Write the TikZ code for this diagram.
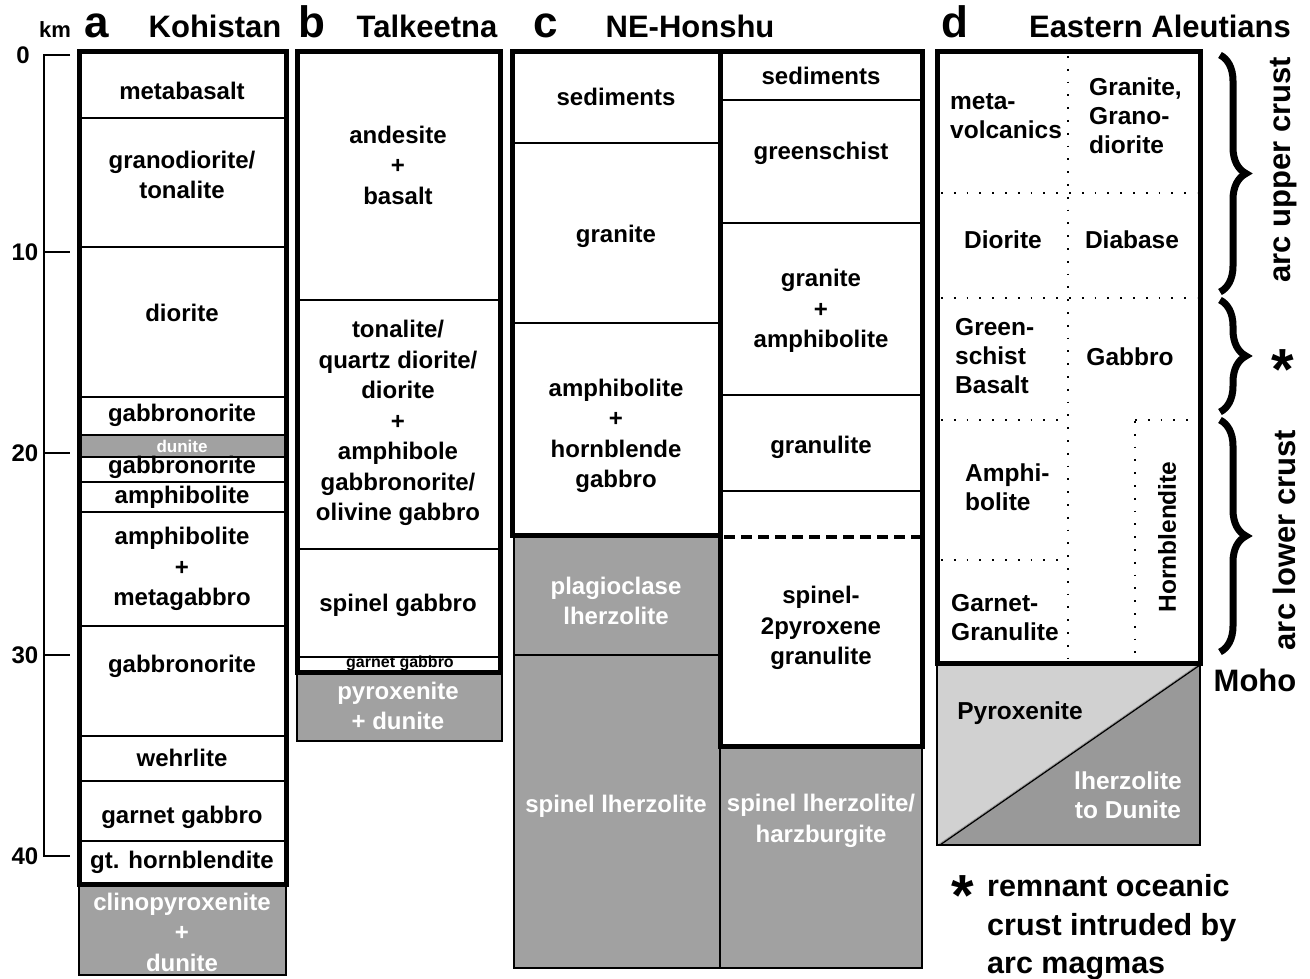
\documentclass[tikz,border=0pt]{standalone}
\usepackage{fontspec}
\setmainfont{Liberation Sans}
\usetikzlibrary{decorations.pathreplacing}

\tikzset{
  crust/.style={line width=5pt},
  layer/.style={line width=1.2pt},
  mantle/.style={draw, fill=black!37, line width=1.2pt},
  lbl/.style={font=\bfseries\fontsize{24}{30.5}\selectfont, align=center, inner sep=0pt},
  wlbl/.style={lbl, text=white},
  smalllbl/.style={lbl, font=\bfseries\fontsize{16}{18}\selectfont},
  dlbl/.style={lbl, font=\bfseries\fontsize{24.5}{29}\selectfont},
  ttl/.style={font=\bfseries\fontsize{31}{36}\selectfont, anchor=base, inner sep=0pt},
  letter/.style={font=\bfseries\fontsize{44}{48}\selectfont, anchor=base, inner sep=0pt},
  notetxt/.style={ttl, anchor=base west, font=\bfseries\fontsize{30.5}{34}\selectfont},
  dotline/.style={line width=1.8pt, dash pattern=on 1.8pt off 11pt},
  brc/.style={decorate, decoration={brace, amplitude=26pt}, line width=7pt},
}

\begin{document}
\begin{tikzpicture}[x=1pt, y=-1pt]
        \useasboundingbox (0,0) rectangle (1310,979);

        % depth scale
        \draw[line width=1.5pt] (70,55) -- (44,55) -- (44,856) -- (70,856);
        \draw[line width=1.5pt] (44,252) -- (70,252);
        \draw[line width=1.5pt] (44,453) -- (70,453);
        \draw[line width=1.5pt] (44,655) -- (70,655);
        \node[lbl] (km0) at (23,55) {0};
        \node[lbl] (km10) at (25,252) {10};
        \node[lbl] (km20) at (25,453) {20};
        \node[lbl] (km30) at (25,655) {30};
        \node[lbl] (km40) at (25,856) {40};

        % headings
        \node[ttl, font=\bfseries\fontsize{22}{24}\selectfont] (km) at (55,38) {km};
        \node[letter] (ha) at (97,38) {a};
        \node[ttl] (hKoh) at (215,38) {Kohistan};
        \node[letter] (hb) at (312,38) {b};
        \node[ttl] (hTal) at (427,38) {Talkeetna};
        \node[letter] (hc) at (546,38) {c};
        \node[ttl] (hNE) at (690,38) {NE-Honshu};
        \node[letter] (hd) at (955,38) {d};
        \node[ttl] (hAle) at (1160,38) {Eastern Aleutians};

        % a  Kohistan
        \draw[mantle] (79,884) rectangle (286,975);
        \draw[mantle] (79,435) rectangle (286,457);
        \draw[layer] (79,118) -- (286,118);
        \draw[layer] (79,247) -- (286,247);
        \draw[layer] (79,397) -- (286,397);
        \draw[layer] (79,482) -- (286,482);
        \draw[layer] (79,512) -- (286,512);
        \draw[layer] (79,626) -- (286,626);
        \draw[layer] (79,736) -- (286,736);
        \draw[layer] (79,781) -- (286,781);
        \draw[layer] (79,841) -- (286,841);
        \draw[crust] (79,52) rectangle (286,884);

        \node[lbl] (a1) at (182,91) {metabasalt};
        \node[lbl] (a2) at (182,175) {granodiorite/\\tonalite};
        \node[lbl] (a3) at (182,313) {diorite};
        \node[lbl] (a4) at (182,415) {gabbronorite};
        \node[wlbl, font=\bfseries\fontsize{17}{20}\selectfont] (a5) at (182,446) {dunite};
        \node[lbl] (a6) at (182,467) {gabbronorite};
        \node[lbl] (a7) at (182,497) {amphibolite};
        \node[lbl] (a8) at (182,569) {amphibolite\\+\\metagabbro};
        \node[lbl] (a9) at (182,666) {gabbronorite};
        \node[lbl] (a10) at (182,758) {wehrlite};
        \node[lbl] (a11) at (182,817) {garnet gabbro};
        \node[lbl] (a12) at (182,862) {gt. hornblendite};
        \node[wlbl] (a13) at (182,932) {clinopyroxenite\\+\\dunite};

        % b  Talkeetna
        \draw[mantle] (297,672) rectangle (502,741);
        \draw[layer] (297,300) -- (500,300);
        \draw[layer] (297,549) -- (500,549);
        \draw[layer] (297,657) -- (500,657);
        \draw[crust] (297,52) rectangle (500,672);

        \node[lbl] (b1) at (398,165) {andesite\\+\\basalt};
        \node[lbl] (b2) at (398,423) {tonalite/\\quartz diorite/\\diorite\\+\\amphibole\\gabbronorite/\\olivine gabbro};
        \node[lbl] (b3) at (398,605) {spinel gabbro};
        \node[smalllbl] (b4) at (400,663) {garnet gabbro};
        \node[wlbl] (b5) at (398,706) {pyroxenite\\+ dunite};

        % c  NE-Honshu
        \draw[mantle] (514,535) rectangle (720,968);
        \draw[mantle] (720,746) rectangle (922,968);
        \draw[layer] (514,655) -- (720,655);
        \draw[layer] (512,143) -- (720,143);
        \draw[layer] (512,323) -- (720,323);
        \draw[layer] (720,100) -- (922,100);
        \draw[layer] (720,223) -- (922,223);
        \draw[layer] (720,395) -- (922,395);
        \draw[layer] (720,491) -- (922,491);
        \draw[line width=4.5pt, dash pattern=on 11pt off 6pt] (724,537) -- (920,537);
        \draw[crust] (512,52) rectangle (720,535);
        \draw[crust] (720,52) rectangle (922,746);

        \node[lbl] (cl1) at (616,97) {sediments};
        \node[lbl] (cl2) at (616,236) {granite};
        \node[lbl] (cl3) at (616,436) {amphibolite\\+\\hornblende\\gabbro};
        \node[wlbl] (cl4) at (616,601) {plagioclase\\lherzolite};
        \node[wlbl] (cl5) at (616,806) {spinel lherzolite};
        \node[lbl] (cr1) at (821,76) {sediments};
        \node[lbl] (cr2) at (821,153) {greenschist};
        \node[lbl] (cr3) at (821,311) {granite\\+\\amphibolite};
        \node[lbl] (cr4) at (821,447) {granulite};
        \node[lbl] (cr5) at (821,628) {spinel-\\2pyroxene\\granulite};
        \node[wlbl] (cr6) at (821,821) {spinel lherzolite/\\harzburgite};

        % d  Eastern Aleutians
        \fill[black!18] (937,663) -- (1200,663) -- (937,845) -- cycle;
        \fill[black!40] (937,845) -- (1200,845) -- (1200,663) -- cycle;
        \draw[layer] (937,663) rectangle (1200,845);
        \draw[layer] (940,845) -- (1200,665);
        \draw[dotline] (1068,56) -- (1068,660);
        \draw[dotline] (1135,421) -- (1135,660);
        \draw[dotline] (941,193) -- (1197,193);
        \draw[dotline] (941,298) -- (1197,298);
        \draw[dotline] (941,420) -- (1068,420);
        \draw[dotline] (1135,420) -- (1197,420);
        \draw[dotline] (941,560) -- (1068,560);
        \draw[crust] (937,52) rectangle (1200,663);

        \node[dlbl, align=left, anchor=west] (d1) at (950,116) {meta-\\volcanics};
        \node[dlbl, align=left, anchor=west] (d2) at (1089,116) {Granite,\\Grano-\\diorite};
        \node[dlbl] (d3) at (1003,240) {Diorite};
        \node[dlbl] (d4) at (1132,240) {Diabase};
        \node[dlbl, align=left, anchor=west] (d5) at (955,356) {Green-\\schist\\Basalt};
        \node[dlbl] (d6) at (1130,357) {Gabbro};
        \node[dlbl, align=left, anchor=west] (d7) at (965,487) {Amphi-\\bolite};
        \node[dlbl, align=left, anchor=west] (d8) at (951,618) {Garnet-\\Granulite};
        \node[dlbl, rotate=90] (d9) at (1167,537) {Hornblendite};
        \node[dlbl] (d10) at (1020,713) {Pyroxenite};
        \node[dlbl, text=white] (d11) at (1128,795) {lherzolite\\to Dunite};

        % crust divisions
        \draw[brc] (1220,55) -- (1220,292);
        \draw[brc] (1220,300) -- (1220,412);
        \draw[brc] (1220,420) -- (1220,652);
        \node[ttl, anchor=center, rotate=90] (upper) at (1284,170) {arc upper crust};
        \node[ttl, anchor=center, rotate=90] (lower) at (1284,540) {arc lower crust};
        \node[ttl, font=\bfseries\fontsize{58}{60}\selectfont] (star) at (1283,389) {*};
        \node[ttl, anchor=center] (moho) at (1255,680) {Moho};

        % note
        \node[ttl, font=\bfseries\fontsize{58}{60}\selectfont] (nstar) at (963,915) {*};
        \node[notetxt] (note1) at (987,896) {remnant oceanic};
        \node[notetxt] (note2) at (987,935) {crust intruded by};
        \node[notetxt] (note3) at (987,973) {arc magmas};

      \end{tikzpicture}
\end{document}
